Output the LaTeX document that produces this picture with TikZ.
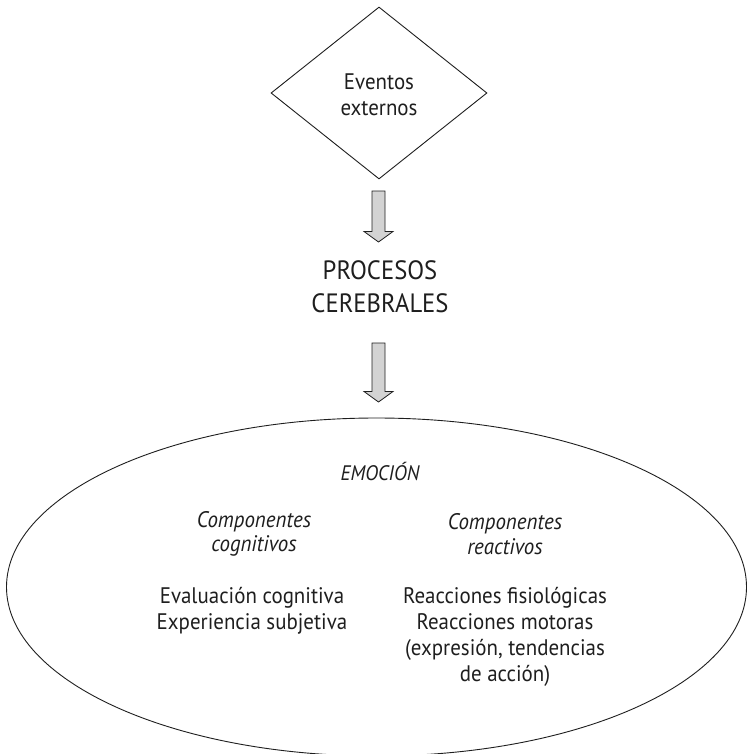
\documentclass[tikz,border=0pt]{standalone}
\usepackage{fontspec}
\setmainfont{PT Sans}[FakeStretch=0.93]
\usetikzlibrary{shapes.geometric,calc}
\definecolor{ink}{HTML}{1E1E1E}
\definecolor{arrowfill}{HTML}{D3D3D3}
% block arrow from #1 (tail) down to #2 (tip)
\newcommand\blockarrow[2]{%
  \draw[arrowbox] let \p1=(#1), \p2=(#2) in
    (\x1-6.5pt,\y1) -- (\x1-6.5pt,\y2+10.5pt) -- (\x1-14.5pt,\y2+10.5pt)
    -- (\x1,\y2) -- (\x1+14.5pt,\y2+10.5pt) -- (\x1+6.5pt,\y2+10.5pt)
    -- (\x1+6.5pt,\y1) -- cycle;}
\begin{document}
\begin{tikzpicture}[x=1pt,y=-1pt,
  outline/.style={draw=ink, line width=0.9pt},
  arrowbox/.style={draw=ink, fill=arrowfill, line width=0.8pt, line join=miter},
  txt/.style={inner sep=0pt, align=center, text=ink, font=\fontsize{22.5}{26}\selectfont},
  itxt/.style={txt, font=\fontsize{22.5}{24.5}\selectfont\itshape},
  bigtxt/.style={inner sep=0pt, align=center, text=ink, font=\fontsize{26.5}{33}\selectfont}]
\useasboundingbox (0,0) rectangle (746,754);

% external events
\node[diamond, outline, aspect=1.256, minimum width=216pt, minimum height=172pt, inner sep=0pt] (ev) at (379,93) {};
\node[txt] (evtxt) at (379,95) {Eventos\\externos};

% brain processes
\node[bigtxt] (proc) at (380,287) {PROCESOS\\CEREBRALES};

% emotion
\node[ellipse, outline, minimum width=740pt, minimum height=338pt, inner sep=0pt] (emo) at (376.5,587) {};
\node[itxt, font=\fontsize{21}{24}\selectfont\itshape] (emotitle) at (380,471) {EMOCIÓN};
\node[itxt] (cog) at (254,534) {Componentes\\cognitivos};
\node[itxt] (reac) at (505,534) {Componentes\\reactivos};
\node[txt] (cogitems) at (252,611) {Evaluación cognitiva\\Experiencia subjetiva};
\node[txt] (reacitems) at (505,636.5) {Reacciones fisiológicas\\Reacciones motoras\\(expresión, tendencias\\de acción)};

% arrows
\coordinate (a1s) at (378.5,191);
\coordinate (a1e) at (378.5,242);
\coordinate (a2s) at (378.5,343);
\coordinate (a2e) at (378.5,402);
\blockarrow{a1s}{a1e}
\blockarrow{a2s}{a2e}
\end{tikzpicture}
\end{document}
